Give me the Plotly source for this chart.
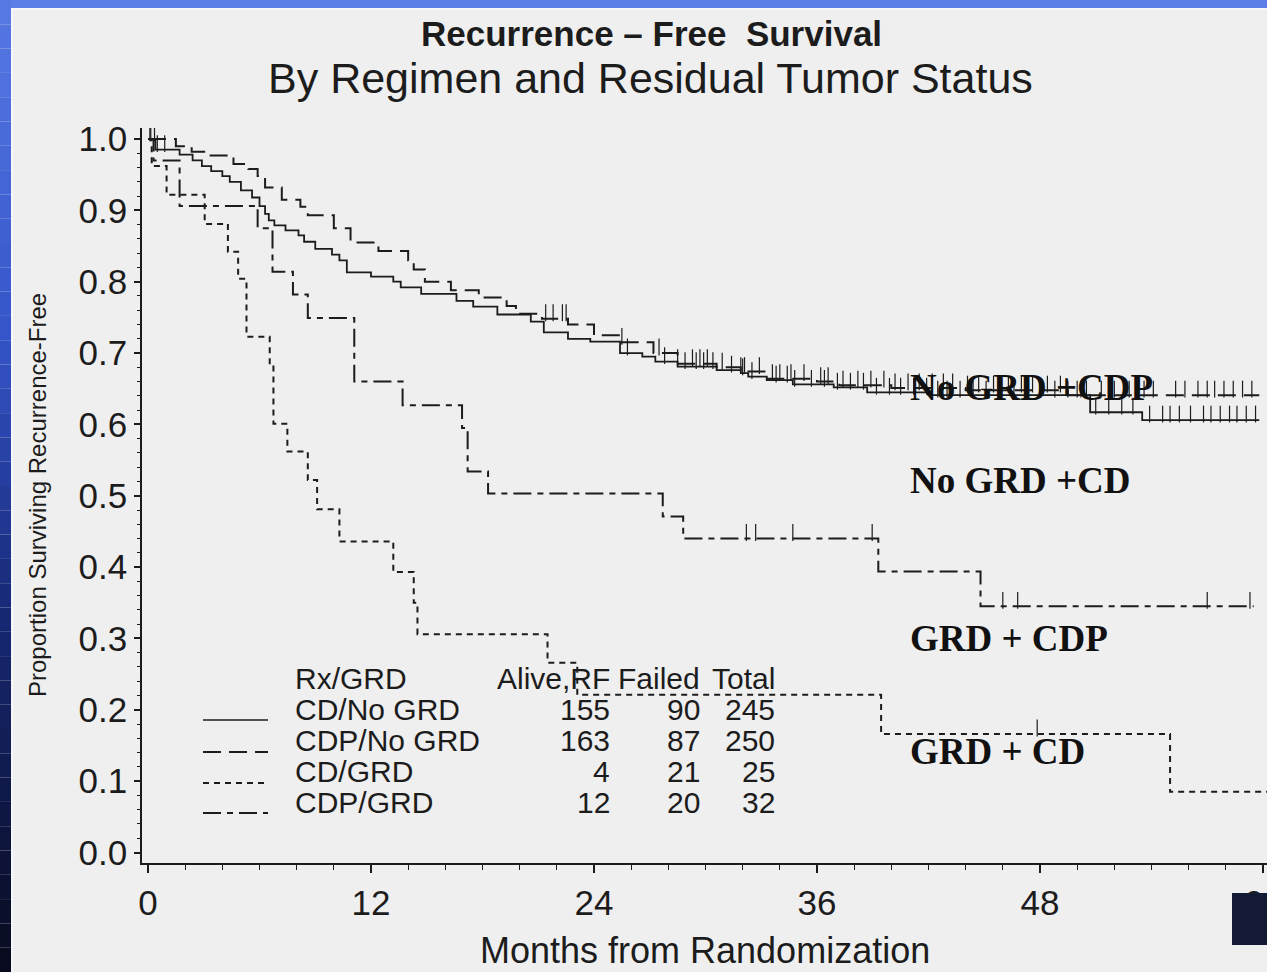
import numpy as np
import plotly.graph_objects as go

# ---------------- data ----------------
# CD / No GRD  (solid)
cd_nogrd_t = [0, 0.4, 1.7, 2.4, 2.9, 3.4, 4.0, 4.4, 5.0, 5.6, 6.0, 6.3, 6.5, 6.8, 7.4, 8.1, 8.4,
              9.0, 9.9, 10.3, 10.7, 12.0, 13.2, 13.6, 14.7, 16.6, 17.5, 18.8, 20.6, 21.3, 22.6,
              23.8, 25.4, 26.6, 27.3, 28.5, 30.6, 31.9, 32.3, 33.3, 34.7, 36.9, 38.7, 42.0,
              50.7, 53.5]
cd_nogrd_s = [1.0, 0.985, 0.978, 0.970, 0.962, 0.955, 0.948, 0.940, 0.928, 0.918, 0.906, 0.895,
              0.886, 0.879, 0.872, 0.865, 0.856, 0.846, 0.838, 0.830, 0.813, 0.807, 0.800, 0.792,
              0.783, 0.773, 0.765, 0.754, 0.744, 0.729, 0.720, 0.716, 0.700, 0.695, 0.688, 0.681,
              0.676, 0.672, 0.667, 0.662, 0.656, 0.652, 0.645, 0.641, 0.617, 0.606]
cd_nogrd_end = 59.8
cd_nogrd_cens = [0.1, 0.5, 0.9, 25.8, 27.8, 28.9, 29.5, 29.9, 30.4, 31.4, 32.0, 32.5, 33.8, 34.4,
                 34.8, 35.7, 36.4, 37.1, 37.8, 38.5, 39.2, 39.9, 40.5, 41.2, 41.9, 42.5, 43.0,
                 43.7, 44.4, 45.1, 45.9, 46.6, 47.3, 48.0, 48.8, 49.5, 50.2, 51.0, 51.7, 52.4,
                 53.0, 53.9, 54.6, 55.0, 55.5, 56.1, 56.8, 57.2, 57.7, 58.2, 58.6, 59.1, 59.6]

# CDP / No GRD  (long dash)
cdp_nogrd_t = [0, 1.5, 2.35, 3.3, 4.6, 5.4, 5.9, 6.3, 7.2, 8.2, 8.6, 10.0, 10.9, 12.4, 14.0, 14.3,
               14.9, 16.3, 17.8, 19.3, 19.8, 21.2, 22.6, 24.0, 25.4, 27.2, 28.5, 30.6, 31.9, 33.3,
               36.0, 37.2, 40.0, 44.0, 49.5]
cdp_nogrd_s = [1.0, 0.990, 0.982, 0.977, 0.965, 0.958, 0.948, 0.932, 0.915, 0.905, 0.893, 0.875,
               0.855, 0.843, 0.830, 0.817, 0.800, 0.788, 0.778, 0.766, 0.755, 0.748, 0.740, 0.725,
               0.715, 0.700, 0.685, 0.680, 0.674, 0.664, 0.660, 0.655, 0.651, 0.648, 0.641]
cdp_nogrd_end = 59.8
cdp_nogrd_cens = [0.15, 0.35, 21.4, 21.8, 22.3, 22.5, 25.5, 27.5, 28.5, 29.3, 29.7, 30.1, 30.9,
                  31.9, 32.1, 32.9, 33.6, 34.0, 34.6, 35.3, 36.2, 36.6, 37.4, 38.2, 38.9, 39.6,
                  40.2, 40.9, 41.5, 42.2, 42.8, 43.3, 44.1, 44.7, 45.5, 46.3, 47.0, 47.6, 48.4,
                  49.1, 50.0, 50.5, 51.3, 52.0, 52.8, 53.6, 54.1, 55.3, 55.8, 56.5, 57.0, 57.4,
                  57.9, 58.4, 58.9, 59.4]

# CD / GRD  (short dash)
cd_grd_t = [0, 0.2, 1.0, 3.05, 4.3, 4.85, 5.3, 6.55, 6.75, 7.5, 8.6, 9.1, 10.3, 13.2, 14.3, 14.5,
            21.5, 23.1, 39.45, 55.0]
cd_grd_s = [1.0, 0.962, 0.922, 0.881, 0.842, 0.804, 0.723, 0.681, 0.601, 0.562, 0.522, 0.481,
            0.436, 0.393, 0.350, 0.306, 0.266, 0.221, 0.166, 0.085]
cd_grd_end = 60.3
cd_grd_cens = [47.85]

# CDP / GRD  (long-short dash)
cdp_grd_t = [0, 0.3, 1.7, 5.9, 6.7, 7.8, 8.6, 11.1, 13.7, 16.9, 17.2, 18.3, 27.7, 28.8, 39.3, 44.8]
cdp_grd_s = [1.0, 0.970, 0.906, 0.875, 0.814, 0.782, 0.749, 0.660, 0.627, 0.595, 0.534, 0.503,
             0.471, 0.440, 0.394, 0.345]
cdp_grd_end = 59.5
cdp_grd_cens = [32.2, 32.7, 34.7, 38.97, 46.0, 46.8, 57.0, 59.3]

# legend table
rx_grd = ["CD/No GRD", "CDP/No GRD", "CD/GRD", "CDP/GRD"]
alive_rf = [155, 163, 4, 12]
failed = [90, 87, 21, 20]
total = [245, 250, 25, 32]

# curve labels
curve_labels = ["No GRD +CDP", "No GRD +CD", "GRD + CDP", "GRD + CD"]
label_y = [0.652, 0.522, 0.300, 0.141]
label_x = 40.9

x_ticks = [0, 12, 24, 36, 48, 60]

# ---------------- styling ----------------
INK = "#1c1c1c"
BG = "#efefef"
SANS = "Liberation Sans, Arial, sans-serif"
SERIF = "Liberation Serif, Times New Roman, serif"

W, H = 1267, 972
L, R, T, B = 142, 0, 128, 109
PW, PH = W - L - R, H - T - B


def xp(px):
    return (px - L) / PW


def yp(py):
    return (H - B - py) / PH


series = [
    (cd_nogrd_t, cd_nogrd_s, cd_nogrd_end, cd_nogrd_cens, "solid", 1.8),
    (cdp_nogrd_t, cdp_nogrd_s, cdp_nogrd_end, cdp_nogrd_cens, "18px,8px", 2.0),
    (cd_grd_t, cd_grd_s, cd_grd_end, cd_grd_cens, "6px,5px", 2.0),
    (cdp_grd_t, cdp_grd_s, cdp_grd_end, cdp_grd_cens, "18px,6px,6px,6px", 2.0),
]

fig = go.Figure()
for t, s, tend, cens, dash, w in series:
    fig.add_trace(go.Scatter(
        x=list(t) + [tend], y=list(s) + [s[-1]], mode="lines",
        line=dict(shape="hv", color=INK, width=w, dash=dash),
        hoverinfo="skip", showlegend=False))
    ta = np.array(t)
    sa = np.array(s)
    ca = np.array(cens)
    idx = np.searchsorted(ta, ca, side="right") - 1
    fig.add_trace(go.Scatter(
        x=ca, y=sa[idx] + 0.0085, mode="markers",
        marker=dict(symbol="line-ns", size=12, color=INK,
                    line=dict(width=1.2, color=INK)),
        hoverinfo="skip", showlegend=False))

shapes = []
# blue frame: top strip and left gradient strip
shapes.append(dict(type="rect", xref="paper", yref="paper", x0=xp(0), x1=xp(W), y0=yp(8), y1=yp(0),
                   fillcolor="#5b7fe6", line=dict(width=0), layer="below"))
stops = [(0.0, (88, 122, 228)), (0.35, (52, 84, 200)), (0.62, (24, 42, 120)), (1.0, (8, 10, 28))]
nb = 40
for i in range(nb):
    f = (i + 0.5) / nb
    for k in range(len(stops) - 1):
        if stops[k][0] <= f <= stops[k + 1][0]:
            a = (f - stops[k][0]) / (stops[k + 1][0] - stops[k][0])
            c = [int(stops[k][1][j] + a * (stops[k + 1][1][j] - stops[k][1][j])) for j in range(3)]
            break
    shapes.append(dict(type="rect", xref="paper", yref="paper", x0=xp(0), x1=xp(11),
                       y0=yp(H * (i + 1) / nb), y1=yp(H * i / nb),
                       fillcolor="rgb(%d,%d,%d)" % tuple(c), line=dict(width=0), layer="below"))
shapes.append(dict(type="rect", xref="paper", yref="paper", x0=xp(11), x1=xp(13), y0=yp(H), y1=yp(8),
                   fillcolor="#f6f7fb", line=dict(width=0), layer="below"))
shapes.append(dict(type="rect", xref="paper", yref="paper", x0=xp(11), x1=xp(W), y0=yp(10), y1=yp(8),
                   fillcolor="#f6f7fb", line=dict(width=0), layer="below"))
# dark block bottom right (covers most of the last tick label)
shapes.append(dict(type="rect", xref="paper", yref="paper", x0=xp(1232), x1=xp(1270), y0=yp(945), y1=yp(893),
                   fillcolor="#131a35", line=dict(width=0), layer="above"))

# legend sample lines
sample_y = [720, 752, 783, 813]
for (t, s, tend, cens, dash, w), py in zip(series, sample_y):
    shapes.append(dict(type="line", xref="paper", yref="paper", x0=xp(203), x1=xp(268),
                       y0=yp(py), y1=yp(py), line=dict(color=INK, width=w if dash != "solid" else 1.4, dash=dash)))

ann = []
ann.append(dict(text="<b>Recurrence – Free  Survival</b>", x=xp(651), y=yp(33), xref="paper", yref="paper",
                showarrow=False, font=dict(family=SANS, size=35, color=INK), xanchor="center", yanchor="middle"))
ann.append(dict(text="By Regimen and Residual Tumor Status", x=xp(650), y=yp(78), xref="paper", yref="paper",
                showarrow=False, font=dict(family=SANS, size=43, color=INK), xanchor="center", yanchor="middle"))
ann.append(dict(text="Proportion Surviving Recurrence-Free", x=xp(38), y=yp(495), xref="paper", yref="paper",
                showarrow=False, textangle=-90, font=dict(family=SANS, size=24, color=INK),
                xanchor="center", yanchor="middle"))
ann.append(dict(text="Months from Randomization", x=xp(705), y=yp(950), xref="paper", yref="paper",
                showarrow=False, font=dict(family=SANS, size=36, color=INK), xanchor="center", yanchor="middle"))

LF = dict(family=SANS, size=30, color=INK)
ROWH = 29
ann.append(dict(text="Rx/GRD", x=xp(293), y=yp(678), xref="paper", yref="paper", showarrow=False,
                font=LF, xanchor="left", yanchor="middle", height=ROWH))
for txt, rx in [("Alive,RF", 612), ("Failed", 702), ("Total", 777)]:
    ann.append(dict(text=txt, x=xp(rx), y=yp(678), xref="paper", yref="paper", showarrow=False,
                    font=LF, xanchor="right", yanchor="middle", height=ROWH))
row_y = [709, 740, 771, 802]
for i, py in enumerate(row_y):
    ann.append(dict(text=rx_grd[i], x=xp(293), y=yp(py), xref="paper", yref="paper", showarrow=False,
                    font=LF, xanchor="left", yanchor="middle", height=ROWH))
    for val, rx in [(alive_rf[i], 612), (failed[i], 702), (total[i], 777)]:
        ann.append(dict(text=str(val), x=xp(rx), y=yp(py), xref="paper", yref="paper", showarrow=False,
                        font=LF, xanchor="right", yanchor="middle", height=ROWH))

for txt, ly in zip(curve_labels, label_y):
    ann.append(dict(text="<b>%s</b>" % txt, x=label_x, y=ly, xref="x", yref="y", showarrow=False,
                    font=dict(family=SERIF, size=37, color="#111111"), xanchor="left", yanchor="middle"))

fig.update_layout(
    width=W, height=H, autosize=False,
    margin=dict(l=L, r=R, t=T, b=B, pad=0, autoexpand=False),
    paper_bgcolor=BG, plot_bgcolor=BG,
    shapes=shapes, annotations=ann, showlegend=False,
    xaxis=dict(range=[(L - 148) / 18.583, (W - 148) / 18.583], tickmode="array", tickvals=x_ticks,
               ticktext=[str(v) for v in x_ticks], automargin=False, ticklabeloverflow="allow",
               ticks="outside", ticklen=8, tickwidth=1.5, tickcolor=INK,
               showline=True, linecolor=INK, linewidth=1.6, showgrid=False, zeroline=False,
               tickfont=dict(family=SANS, size=35, color=INK),
               minor=dict(tickmode="linear", tick0=0, dtick=2, ticks="outside", ticklen=5,
                          tickwidth=1.2, tickcolor=INK, showgrid=False)),
    yaxis=dict(range=[(852.5 - (H - B)) / 713.5, (852.5 - T) / 713.5], tickmode="linear", tick0=0, dtick=0.1,
               tickformat=".1f", ticks="outside", ticklen=6, tickwidth=1.5, tickcolor=INK,
               showline=True, linecolor=INK, linewidth=1.6, showgrid=False, zeroline=False, automargin=False,
               tickfont=dict(family=SANS, size=35, color=INK),
               minor=dict(tickmode="linear", tick0=0, dtick=0.02, ticks="outside", ticklen=3,
                          tickwidth=1.0, tickcolor=INK, showgrid=False)),
)

fig.write_html("out.html", config={"displayModeBar": False},
               post_script="document.body.style.margin='0px';document.body.style.overflow='hidden';")
